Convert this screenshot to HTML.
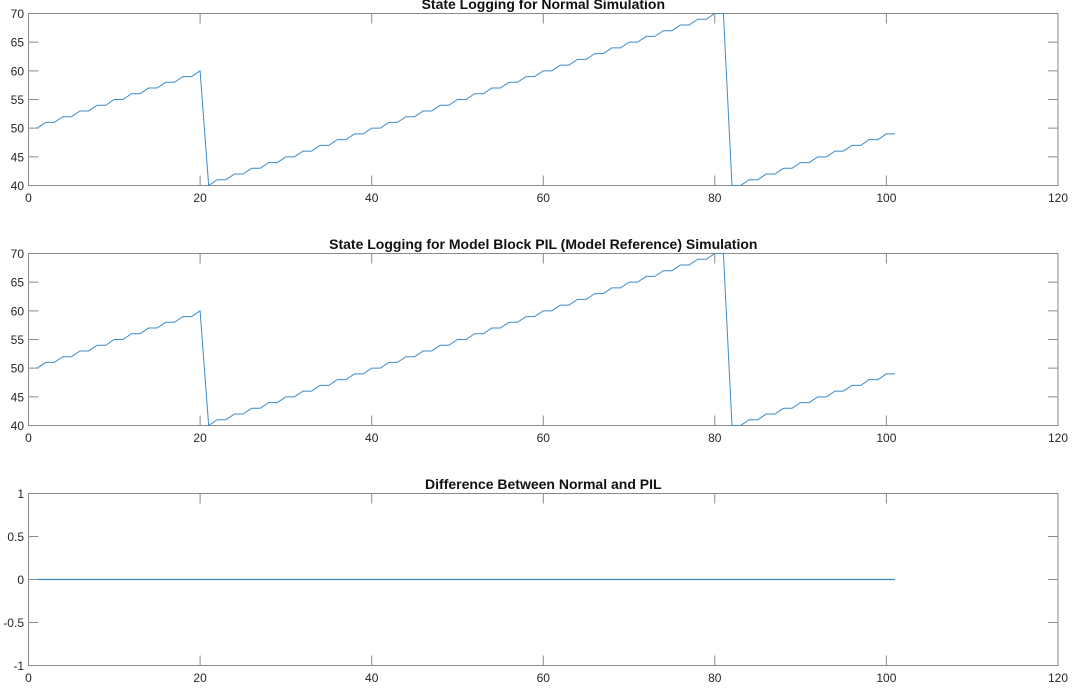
<!DOCTYPE html>
<html><head><meta charset="utf-8"><style>
html,body{margin:0;padding:0;background:#fff;}
svg{display:block;}
text{font-family:"Liberation Sans",Arial,sans-serif;fill:#262626;}
.t{font-size:12px;}
.ti{font-size:14px;font-weight:bold;fill:#111;}
</style></head><body>
<svg width="1084" height="698" viewBox="0 0 1084 698" xmlns="http://www.w3.org/2000/svg">
<defs>
<clipPath id="c1"><rect x="28.5" y="13" width="1030" height="173"/></clipPath>
<clipPath id="c2"><rect x="28.5" y="253" width="1030" height="173"/></clipPath>
<clipPath id="c3"><rect x="28.5" y="493" width="1030" height="173"/></clipPath>
</defs>

<!-- ============ PLOT 1 ============ -->
<g fill="none" stroke="#8a8a8a" stroke-width="1">
<rect x="28.5" y="13.5" width="1029.5" height="172"/>
<path d="M200.1 185.5v-10M371.7 185.5v-10M543.3 185.5v-10M714.8 185.5v-10M886.4 185.5v-10
M200.1 13.5v10M371.7 13.5v10M543.3 13.5v10M714.8 13.5v10M886.4 13.5v10
M28.5 156.83h10M28.5 128.17h10M28.5 99.5h10M28.5 70.83h10M28.5 42.17h10
M1058 156.83h-10M1058 128.17h-10M1058 99.5h-10M1058 70.83h-10M1058 42.17h-10"/>
</g>
<g clip-path="url(#c1)">
<g transform="translate(28.5,185.5) scale(8.57917,-5.73333) translate(0,-40)">
<polyline vector-effect="non-scaling-stroke" fill="none" stroke="#3a8ccd" stroke-width="1" points="1,50 2,51 3,51 4,52 5,52 6,53 7,53 8,54 9,54 10,55 11,55 12,56 13,56 14,57 15,57 16,58 17,58 18,59 19,59 20,60 21,40 22,41 23,41 24,42 25,42 26,43 27,43 28,44 29,44 30,45 31,45 32,46 33,46 34,47 35,47 36,48 37,48 38,49 39,49 40,50 41,50 42,51 43,51 44,52 45,52 46,53 47,53 48,54 49,54 50,55 51,55 52,56 53,56 54,57 55,57 56,58 57,58 58,59 59,59 60,60 61,60 62,61 63,61 64,62 65,62 66,63 67,63 68,64 69,64 70,65 71,65 72,66 73,66 74,67 75,67 76,68 77,68 78,69 79,69 80,70 81,70 82,40 83,40 84,41 85,41 86,42 87,42 88,43 89,43 90,44 91,44 92,45 93,45 94,46 95,46 96,47 97,47 98,48 99,48 100,49 101,49"/>
</g>
</g>
<g class="t" text-anchor="end">
<text x="24" y="190">40</text>
<text x="24" y="161.3">45</text>
<text x="24" y="132.7">50</text>
<text x="24" y="104">55</text>
<text x="24" y="75.3">60</text>
<text x="24" y="46.7">65</text>
<text x="24" y="18">70</text>
</g>
<g class="t" text-anchor="middle">
<text x="28.5" y="202">0</text>
<text x="200.1" y="202">20</text>
<text x="371.7" y="202">40</text>
<text x="543.3" y="202">60</text>
<text x="714.8" y="202">80</text>
<text x="886.4" y="202">100</text>
<text x="1058" y="202">120</text>
</g>
<text class="ti" x="543.3" y="9" text-anchor="middle">State Logging for Normal Simulation</text>

<!-- ============ PLOT 2 ============ -->
<g fill="none" stroke="#8a8a8a" stroke-width="1">
<rect x="28.5" y="253.5" width="1029.5" height="172"/>
<path d="M200.1 425.5v-10M371.7 425.5v-10M543.3 425.5v-10M714.8 425.5v-10M886.4 425.5v-10
M200.1 253.5v10M371.7 253.5v10M543.3 253.5v10M714.8 253.5v10M886.4 253.5v10
M28.5 396.83h10M28.5 368.17h10M28.5 339.5h10M28.5 310.83h10M28.5 282.17h10
M1058 396.83h-10M1058 368.17h-10M1058 339.5h-10M1058 310.83h-10M1058 282.17h-10"/>
</g>
<g clip-path="url(#c2)">
<g transform="translate(28.5,425.5) scale(8.57917,-5.73333) translate(0,-40)">
<polyline vector-effect="non-scaling-stroke" fill="none" stroke="#3a8ccd" stroke-width="1" points="1,50 2,51 3,51 4,52 5,52 6,53 7,53 8,54 9,54 10,55 11,55 12,56 13,56 14,57 15,57 16,58 17,58 18,59 19,59 20,60 21,40 22,41 23,41 24,42 25,42 26,43 27,43 28,44 29,44 30,45 31,45 32,46 33,46 34,47 35,47 36,48 37,48 38,49 39,49 40,50 41,50 42,51 43,51 44,52 45,52 46,53 47,53 48,54 49,54 50,55 51,55 52,56 53,56 54,57 55,57 56,58 57,58 58,59 59,59 60,60 61,60 62,61 63,61 64,62 65,62 66,63 67,63 68,64 69,64 70,65 71,65 72,66 73,66 74,67 75,67 76,68 77,68 78,69 79,69 80,70 81,70 82,40 83,40 84,41 85,41 86,42 87,42 88,43 89,43 90,44 91,44 92,45 93,45 94,46 95,46 96,47 97,47 98,48 99,48 100,49 101,49"/>
</g>
</g>
<g class="t" text-anchor="end">
<text x="24" y="430">40</text>
<text x="24" y="401.3">45</text>
<text x="24" y="372.7">50</text>
<text x="24" y="344">55</text>
<text x="24" y="315.3">60</text>
<text x="24" y="286.7">65</text>
<text x="24" y="258">70</text>
</g>
<g class="t" text-anchor="middle">
<text x="28.5" y="442">0</text>
<text x="200.1" y="442">20</text>
<text x="371.7" y="442">40</text>
<text x="543.3" y="442">60</text>
<text x="714.8" y="442">80</text>
<text x="886.4" y="442">100</text>
<text x="1058" y="442">120</text>
</g>
<text class="ti" x="543.3" y="249" text-anchor="middle">State Logging for Model Block PIL (Model Reference) Simulation</text>

<!-- ============ PLOT 3 ============ -->
<g fill="none" stroke="#8a8a8a" stroke-width="1">
<rect x="28.5" y="493.5" width="1029.5" height="172"/>
<path d="M200.1 665.5v-10M371.7 665.5v-10M543.3 665.5v-10M714.8 665.5v-10M886.4 665.5v-10
M200.1 493.5v10M371.7 493.5v10M543.3 493.5v10M714.8 493.5v10M886.4 493.5v10
M28.5 622.5h10M28.5 579.5h10M28.5 536.5h10
M1058 622.5h-10M1058 579.5h-10M1058 536.5h-10"/>
</g>
<g clip-path="url(#c3)">
<path d="M37.08 579.5H895" fill="none" stroke="#3a8ccd" stroke-width="1.3"/>
</g>
<g class="t" text-anchor="end">
<text x="24" y="670">-1</text>
<text x="24" y="627">-0.5</text>
<text x="24" y="584">0</text>
<text x="24" y="541">0.5</text>
<text x="24" y="498">1</text>
</g>
<g class="t" text-anchor="middle">
<text x="28.5" y="682">0</text>
<text x="200.1" y="682">20</text>
<text x="371.7" y="682">40</text>
<text x="543.3" y="682">60</text>
<text x="714.8" y="682">80</text>
<text x="886.4" y="682">100</text>
<text x="1058" y="682">120</text>
</g>
<text class="ti" x="543.3" y="489" text-anchor="middle">Difference Between Normal and PIL</text>
</svg>
</body></html>
